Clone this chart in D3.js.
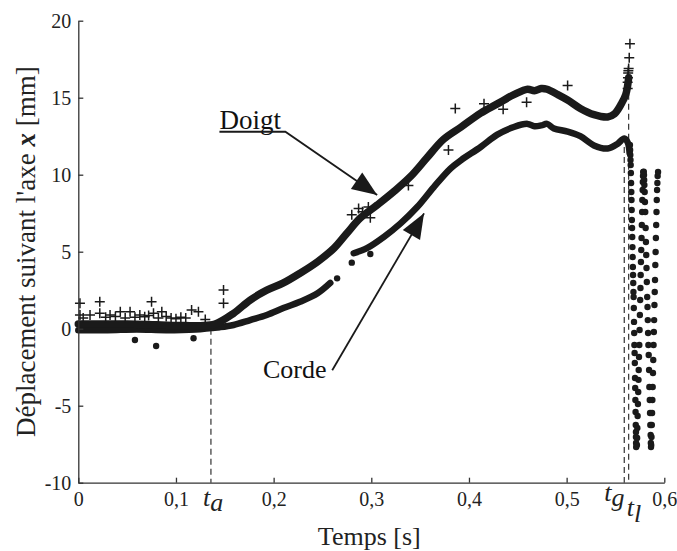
<!DOCTYPE html>
<html><head><meta charset="utf-8">
<script src="https://cdn.jsdelivr.net/npm/d3@7"></script>
<style>
html,body{margin:0;padding:0;background:#fff;}
svg{display:block;font-family:"Liberation Serif","Times New Roman",serif;}
</style></head>
<body>
<svg id="chart" width="677" height="551"></svg>
<script>
// ---------- data ----------
const xTicks = [0, 0.1, 0.2, 0.3, 0.4, 0.5, 0.6];
const yTicks = [-10, -5, 0, 5, 10, 15, 20];
const xTitle = "Temps [s]";
const yTitleA = "Déplacement suivant l'axe ";
const yTitleB = "x";
const yTitleC = " [mm]";

// Doigt (finger) — dense trace
const doigtT = [0, 0.02, 0.05, 0.08, 0.11, 0.125, 0.14, 0.159, 0.176, 0.193, 0.210, 0.227, 0.245, 0.262, 0.275, 0.289, 0.306, 0.323, 0.340, 0.357, 0.374, 0.392, 0.412, 0.429, 0.446, 0.460, 0.467, 0.474, 0.480, 0.491, 0.501, 0.514, 0.528, 0.542, 0.549, 0.556, 0.5605, 0.5625, 0.5635];
const doigtV = [0.3, 0.3, 0.3, 0.25, 0.2, 0.2, 0.3, 1.0, 1.86, 2.5, 2.97, 3.6, 4.35, 5.24, 6.2, 7.2, 8.03, 8.9, 9.87, 11.1, 12.3, 13.1, 14.0, 14.6, 15.2, 15.55, 15.45, 15.6, 15.55, 15.2, 14.85, 14.3, 13.9, 13.75, 13.95, 14.6, 15.2, 15.8, 16.3];
// Doigt isolated samples
const doigtPtsT = [0.0017, 0.0017, 0.005, 0.012, 0.022, 0.022, 0.028, 0.0325, 0.038, 0.043, 0.048, 0.053, 0.058, 0.063, 0.068, 0.072, 0.075, 0.077, 0.082, 0.0855, 0.09, 0.095, 0.1, 0.105, 0.11, 0.116, 0.123, 0.13, 0.1487, 0.1487, 0.280, 0.287, 0.291, 0.297, 0.299, 0.338, 0.379, 0.386, 0.4154, 0.435, 0.459, 0.501, 0.5625, 0.5625, 0.5628, 0.563, 0.5632, 0.5635, 0.5641, 0.5648];
const doigtPtsV = [1.65, 0.89, 0.7, 0.89, 1.75, 1.0, 0.75, 0.89, 0.8, 1.1, 0.7, 1.1, 0.75, 0.89, 0.78, 0.85, 1.75, 1.0, 0.7, 1.1, 0.8, 0.7, 0.65, 0.75, 0.7, 1.21, 1.1, 0.6, 2.51, 1.65, 7.4, 7.8, 7.6, 7.9, 7.2, 9.3, 11.6, 14.3, 14.6, 14.25, 14.7, 15.8, 15.6, 16.0, 16.3, 16.6, 16.75, 16.9, 17.6, 18.5];

// Corde (string) — dense trace, two segments
const corde1T = [0, 0.03, 0.06, 0.09, 0.12, 0.136, 0.145, 0.159, 0.176, 0.193, 0.210, 0.227, 0.245, 0.258];
const corde1V = [-0.1, -0.1, -0.05, -0.1, -0.05, 0.05, 0.1, 0.24, 0.56, 0.89, 1.34, 1.75, 2.3, 2.97];
const corde2T = [0.282, 0.296, 0.313, 0.330, 0.347, 0.364, 0.381, 0.392, 0.412, 0.429, 0.446, 0.460, 0.467, 0.474, 0.480, 0.487, 0.501, 0.514, 0.528, 0.542, 0.552, 0.559, 0.5625, 0.5645];
const corde2V = [4.9, 5.25, 5.97, 6.84, 7.9, 9.2, 10.4, 10.95, 11.8, 12.6, 13.1, 13.3, 13.15, 13.2, 13.3, 13.0, 12.8, 12.5, 11.9, 11.7, 12.0, 12.35, 12.1, 11.4];
// Corde isolated samples + oscillation after release
const cordePtsT = [0.058, 0.0797, 0.118, 0.265, 0.280, 0.299,
  0.5648, 0.5650, 0.5652, 0.5654, 0.5656, 0.5658, 0.5660, 0.5662, 0.5664, 0.5666, 0.5668, 0.5670, 0.5672, 0.5674, 0.5676, 0.5678, 0.5680, 0.5682, 0.5684, 0.5686, 0.5688, 0.5690, 0.5692, 0.5694, 0.5696, 0.5698, 0.5700, 0.5702, 0.5704, 0.5706, 0.5708, 0.5710, 0.5710, 0.5711, 0.5712,
  0.5720, 0.5722, 0.5724, 0.5727, 0.5730, 0.5733, 0.5736, 0.5738, 0.5741, 0.5744, 0.5747, 0.5750, 0.5753, 0.5756, 0.5758, 0.5761, 0.5764, 0.5767, 0.5770, 0.5773, 0.5775, 0.5778, 0.5780, 0.5782, 0.5784,
  0.5790, 0.5792, 0.5794, 0.5796, 0.5799, 0.5802, 0.5805, 0.5809, 0.5812, 0.5815, 0.5818, 0.5821, 0.5825, 0.5828, 0.5831, 0.5834, 0.5837, 0.5840, 0.5844, 0.5847, 0.5851, 0.5854, 0.5857, 0.5860, 0.5862, 0.5864,
  0.5866, 0.5869, 0.5872, 0.5875, 0.5878, 0.5881, 0.5884, 0.5887, 0.5890, 0.5893, 0.5896, 0.5899, 0.5902, 0.5905, 0.5908, 0.5911, 0.5914, 0.5917, 0.5920, 0.5923, 0.5926, 0.5929, 0.5932, 0.5936];
const cordePtsV = [-0.73, -1.12, -0.62, 3.27, 4.29, 4.85,
  11.93, 11.6, 11.28, 10.95, 10.63, 10.11, 9.46, 8.88, 8.36, 7.71, 7.06, 6.54, 5.95, 5.3, 4.66, 4.01, 3.49, 2.97, 2.38, 2.06, 1.34, 0.44, -0.28, -1.06, -1.58, -2.23, -3.2, -3.85, -4.63, -5.41, -6.25, -6.71, -7.03, -7.42, -7.68,
  -7.55, -7.10, -6.45, -5.67, -4.89, -4.11, -3.32, -2.68, -1.84, -1.06, -0.08, 0.89, 1.86, 2.64, 3.49, 4.33, 5.11, 5.89, 6.73, 7.58, 8.36, 9.01, 9.53, 9.92, 10.18,
  10.2, 9.98, 9.66, 9.33, 8.88, 8.23, 7.58, 6.54, 5.63, 4.79, 3.94, 3.03, 2.06, 1.41, 0.56, -0.28, -1.06, -1.71, -2.68, -3.79, -4.63, -5.47, -6.25, -6.90, -7.42, -7.68,
  -7.55, -7.03, -6.25, -5.47, -4.63, -3.79, -2.88, -2.03, -1.06, -0.21, 0.56, 1.54, 2.38, 3.16, 4.14, 4.98, 5.89, 6.73, 7.58, 8.36, 9.01, 9.46, 9.92, 10.18];

// event instants
const eventNames = ["a", "g", "l"];
const eventT = [0.1358, 0.559, 0.5635];
const eventTopV = [0.0, 11.8, 15.9];

// annotations (data coordinates)
const doigtLabelAt = [0.1445, 13.4];
const doigtElbow = [0.212, 12.79];
const doigtTip = [0.306, 8.68];
const cordeLabelAt = [0.189, -2.6];
const cordeStart = [0.260, -2.7];
const cordeTip = [0.354, 7.49];

// ---------- chart ----------
const svg = d3.select("#chart");
const W = 677, H = 551;
const m = {l: 78.3, t: 20.7, r: 677 - 664.3, b: 551 - 482.7};
const x = d3.scaleLinear().domain([0, 0.6]).range([m.l, W - m.r]);
const y = d3.scaleLinear().domain([-10, 20]).range([H - m.b, m.t]);
const ink = "#1a1a1a";

// dashed event lines
eventT.forEach((t, i) => {
  svg.append("line")
    .attr("x1", x(t)).attr("x2", x(t))
    .attr("y1", y(eventTopV[i])).attr("y2", y(-10))
    .attr("stroke", "#333").attr("stroke-width", 1.2)
    .attr("stroke-dasharray", "6,4");
});

// traces
const line = d3.line().x(d => x(d[0])).y(d => y(d[1])).curve(d3.curveCatmullRom.alpha(0.5));
const zip = (a, b) => a.map((v, i) => [v, b[i]]);

svg.append("path").datum(zip(corde1T, corde1V)).attr("d", line)
  .attr("fill", "none").attr("stroke", ink).attr("stroke-width", 6.5)
  .attr("stroke-linecap", "round").attr("stroke-linejoin", "round");
svg.append("path").datum(zip(corde2T, corde2V)).attr("d", line)
  .attr("fill", "none").attr("stroke", ink).attr("stroke-width", 6.5)
  .attr("stroke-linecap", "round").attr("stroke-linejoin", "round");
svg.append("path").datum(zip(doigtT, doigtV)).attr("d", line)
  .attr("fill", "none").attr("stroke", ink).attr("stroke-width", 7.5)
  .attr("stroke-linecap", "round").attr("stroke-linejoin", "round");

// corde dots
svg.append("g").selectAll("circle").data(zip(cordePtsT, cordePtsV)).join("circle")
  .attr("cx", d => x(d[0])).attr("cy", d => y(d[1])).attr("r", 3.2)
  .attr("fill", ink);

// doigt plus markers
svg.append("g").selectAll("path").data(zip(doigtPtsT, doigtPtsV)).join("path")
  .attr("transform", d => `translate(${x(d[0])},${y(d[1])})`)
  .attr("d", "M-5,0H5M0,-5V5")
  .attr("stroke", ink).attr("stroke-width", 1.5).attr("fill", "none");

// axes
const fmt = d => d === 0 ? "0" : d3.format(".1f")(d).replace(".", ",");
const gx = svg.append("g").attr("transform", `translate(0,${y(-10)})`)
  .call(d3.axisBottom(x).tickValues(xTicks).tickFormat(fmt).tickSizeInner(-5).tickSizeOuter(0).tickPadding(9));
const gy = svg.append("g").attr("transform", `translate(${x(0)},0)`)
  .call(d3.axisLeft(y).tickValues(yTicks).tickFormat(d => String(d)).tickSizeInner(-5).tickSizeOuter(0).tickPadding(7));
[gx, gy].forEach(g => {
  g.selectAll("path,line").attr("stroke", "#333").attr("stroke-width", 1.3);
  g.selectAll("text").attr("font-family", "Liberation Serif").attr("font-size", 20).attr("fill", "#222");
});

// axis titles
svg.append("text").attr("x", (x(0) + x(0.6)) / 2 - 2).attr("y", 545)
  .attr("text-anchor", "middle").attr("font-size", 26).attr("fill", "#222").text(xTitle);
const yt = svg.append("text").attr("transform", `translate(35,${(y(-10) + y(20)) / 2}) rotate(-90)`)
  .attr("text-anchor", "middle").attr("font-size", 27).attr("fill", "#222");
yt.append("tspan").text(yTitleA);
yt.append("tspan").attr("font-weight", "bold").attr("font-style", "italic").text(yTitleB);
yt.append("tspan").text(yTitleC);

// event labels
const evPos = [[-8, 506, 5], [-20, 501, 5], [-2, 516, 6]];
eventT.forEach((t, i) => {
  const tx = svg.append("text").attr("x", x(t) + evPos[i][0]).attr("y", evPos[i][1])
    .attr("font-size", 26).attr("font-style", "italic").attr("fill", "#222");
  tx.append("tspan").text("t");
  tx.append("tspan").attr("dy", evPos[i][2]).text(eventNames[i]);
});

// annotation arrows
function arrow(pts) {
  const p = pts.map(d => [x(d[0]), y(d[1])]);
  svg.append("path").attr("d", d3.line()(p))
    .attr("fill", "none").attr("stroke", ink).attr("stroke-width", 1.8);
  const a = p[p.length - 2], b = p[p.length - 1];
  const ang = Math.atan2(b[1] - a[1], b[0] - a[0]);
  const L = 25, Wd = 10;
  const bx = b[0] - L * Math.cos(ang), by = b[1] - L * Math.sin(ang);
  const nx = -Math.sin(ang), ny = Math.cos(ang);
  svg.append("path")
    .attr("d", `M${b[0]},${b[1]}L${bx + nx * Wd},${by + ny * Wd}L${bx - nx * Wd},${by - ny * Wd}Z`)
    .attr("fill", ink);
}
svg.append("text").attr("x", x(doigtLabelAt[0])).attr("y", y(doigtLabelAt[1]) + 7)
  .attr("font-size", 27).attr("fill", "#111").text("Doigt");
arrow([[doigtLabelAt[0], doigtElbow[1]], doigtElbow, doigtTip]);
svg.append("text").attr("x", x(cordeLabelAt[0])).attr("y", y(cordeLabelAt[1]) + 9)
  .attr("font-size", 26).attr("fill", "#111").text("Corde");
arrow([cordeStart, cordeTip]);
</script>
</body></html>
